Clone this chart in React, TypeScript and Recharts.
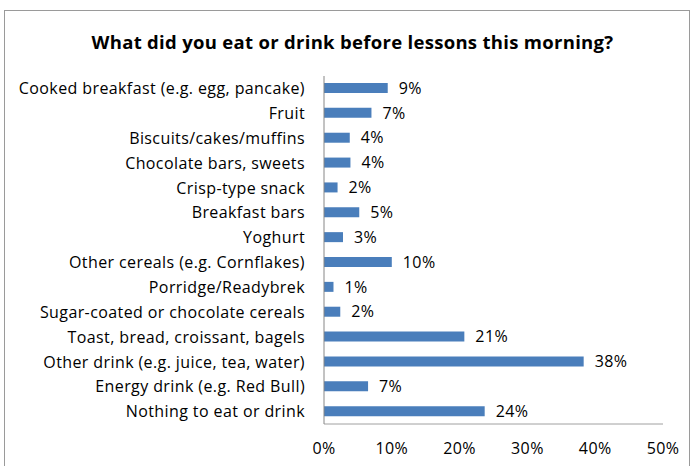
import { BarChart, Bar, XAxis, YAxis, LabelList } from "recharts";

const categories = [
  "Cooked breakfast (e.g. egg, pancake)",
  "Fruit",
  "Biscuits/cakes/muffins",
  "Chocolate bars, sweets",
  "Crisp-type snack",
  "Breakfast bars",
  "Yoghurt",
  "Other cereals (e.g. Cornflakes)",
  "Porridge/Readybrek",
  "Sugar-coated or chocolate cereals",
  "Toast, bread, croissant, bagels",
  "Other drink (e.g. juice, tea, water)",
  "Energy drink (e.g. Red Bull)",
  "Nothing to eat or drink",
];

const percents = [9.4, 7.0, 3.8, 3.9, 2.0, 5.2, 2.8, 10.0, 1.4, 2.4, 20.7, 38.3, 6.5, 23.7];

const xTicks = [0, 10, 20, 30, 40, 50];

const data = categories.map((name, i) => ({ name, value: percents[i] }));

const font = "'Open Sans', sans-serif";
const textStyle = { fill: "#000", fontSize: 16, fontFamily: font, letterSpacing: 0.4 };

export default function App() {
  return (
    <div style={{ position: "absolute", left: 0, top: 0, width: 694, height: 466, background: "#fff", overflow: "hidden", fontFamily: font }}>
      <div
        style={{
          position: "absolute",
          left: 4,
          top: 10,
          width: 684,
          height: 470,
          border: "1.5px solid #9a9a9a",
        }}
      />
      <div
        style={{
          position: "absolute",
          left: 0,
          width: 705,
          top: 29,
          textAlign: "center",
          fontWeight: "bold",
          fontSize: 18.5,
          letterSpacing: 0.3,
          color: "#000",
        }}
      >
        What did you eat or drink before lessons this morning?
      </div>
      <div style={{ position: "absolute", left: 0, top: 0 }}>
        <BarChart
          width={694}
          height={466}
          data={data}
          layout="vertical"
          margin={{ top: 76, right: 31, bottom: 0, left: 0 }}
          barSize={10}
        >
          <XAxis
            type="number"
            domain={[0, 50]}
            ticks={xTicks}
            tickFormatter={(v: number) => `${v}%`}
            axisLine={{ stroke: "#a0a0a0" }}
            tickLine={false}
            tickSize={0}
            tickMargin={19}
            tick={textStyle}
            interval={0}
            height={42}
          />
          <YAxis
            type="category"
            dataKey="name"
            width={324}
            axisLine={{ stroke: "#868686" }}
            tickLine={false}
            tickSize={0}
            tickMargin={19}
            tick={textStyle}
            interval={0}
          />
          <Bar dataKey="value" fill="#4a7ebb" isAnimationActive={false}>
            <LabelList
              dataKey="value"
              position="right"
              offset={11}
              formatter={(v: number) => `${Math.round(v)}%`}
              style={textStyle}
            />
          </Bar>
        </BarChart>
      </div>
    </div>
  );
}
